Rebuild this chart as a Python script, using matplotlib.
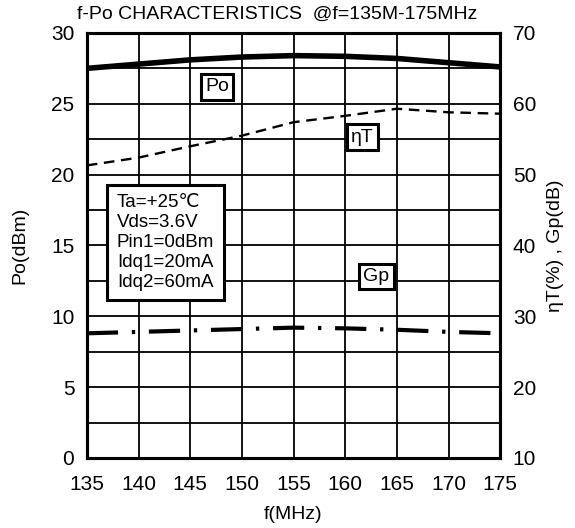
import matplotlib
matplotlib.use('Agg')
import matplotlib.pyplot as plt

plt.rcParams['font.family'] = ['Liberation Sans', 'DejaVu Sans']

### DATA ###
freq = [135, 140, 145, 150, 155, 160, 165, 170, 175]
po_dbm = [27.5, 27.8, 28.1, 28.3, 28.4, 28.35, 28.2, 27.9, 27.6]
eta_t = [51.3, 52.4, 54.0, 55.5, 57.4, 58.3, 59.3, 58.8, 58.6]
gp_db = [27.6, 27.8, 28.0, 28.2, 28.4, 28.3, 28.1, 27.8, 27.6]

x_ticks = [135, 140, 145, 150, 155, 160, 165, 170, 175]
left_ticks = [0, 5, 10, 15, 20, 25, 30]
right_ticks = [10, 20, 30, 40, 50, 60, 70]
cond_lines = ['Ta=+25\u2103', 'Vds=3.6V', 'Pin1=0dBm', 'Idq1=20mA', 'Idq2=60mA']

### FIGURE ###
fig = plt.figure(figsize=(5.75, 5.28), dpi=100)
ax = fig.add_axes([0.151, 0.1326, 0.719, 0.805])
ax2 = ax.twinx()

ax.set_xlim(135, 175)
ax.set_ylim(0, 30)
ax2.set_ylim(10, 70)

ax.set_xticks(x_ticks)
ax.set_yticks([i * 2.5 for i in range(13)])
ax.set_yticklabels(['' if (i % 2) else str(int(i * 2.5)) for i in range(13)])
ax2.set_yticks(right_ticks)

ax.grid(True, color='black', linewidth=1.3)
ax.tick_params(axis='x', length=0, labelsize=15, pad=12)
ax.tick_params(axis='y', length=0, labelsize=15, pad=9)
ax2.tick_params(length=0, labelsize=15, pad=9)

for a in (ax, ax2):
    for s in a.spines.values():
        s.set_linewidth(2.2)

# curves
ax.plot(freq, po_dbm, color='black', linewidth=4.0, solid_capstyle='butt')
ax2.plot(freq, eta_t, color='black', linewidth=1.7,
         linestyle=(0, (4.5, 2.8)), dash_capstyle='butt')
ax2.plot(freq, gp_db, color='black', linewidth=3.0,
         linestyle=(0, (7.5, 3.3, 0.8, 3.3)), dash_capstyle='butt')

# curve labels
box = dict(boxstyle='square,pad=0.22', facecolor='white', edgecolor='black', linewidth=2.2)
ax.text(147.6, 26.2, 'Po', fontsize=14, ha='center', va='center', bbox=box, zorder=5)
ax.text(161.7, 22.65, '\u03b7T', fontsize=14, ha='center', va='center', bbox=box, zorder=5)
ax.text(163.0, 12.8, 'Gp', fontsize=14, ha='center', va='center', bbox=box, zorder=5)

# conditions box
ax.text(137.9, 15.2, '\n'.join(cond_lines), fontsize=13.5, ha='left', va='center',
        linespacing=1.22,
        bbox=dict(boxstyle='square,pad=0.5', facecolor='white', edgecolor='black', linewidth=2.2),
        zorder=5)

ax.set_xlabel('f(MHz)', fontsize=14, labelpad=9)
ax.set_ylabel('Po(dBm)', fontsize=14, labelpad=16)
ax2.set_ylabel('\u03b7T(%) , Gp(dB)', fontsize=14, labelpad=8)

fig.text(0.482, 0.973, 'f-Po CHARACTERISTICS  @f=135M-175MHz', fontsize=14,
         ha='center', va='center')

fig.savefig('out.png', dpi=100)
